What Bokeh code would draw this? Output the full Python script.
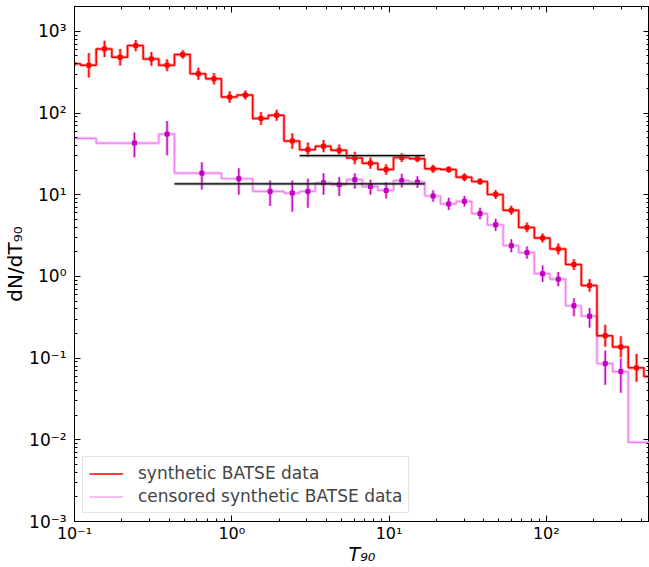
import numpy as np
from bokeh.plotting import figure
from bokeh.models import (FixedTicker, LogAxis, Range1d, Legend, LegendItem)
from bokeh.embed import file_html
from bokeh.resources import INLINE

# ---- bin geometry: log10 edges, equal-width bins (indices used below) ----
log_edge_start = -1.26
log_bin_width = 0.0995
n_edges = 41

# ---- synthetic BATSE data (red), bins from edge index 2 to 40 ----
red_first_edge = 2
red_values = [401, 385, 611, 483, 670, 461, 386, 521, 303, 263,
              157, 166, 86, 94, 45.5, 35.6, 39.3, 35, 28.2, 24.4,
              20.4, 28.5, 27.7, 20.8, 20.4, 16.4, 14.5, 10.1, 6.45, 3.98,
              2.95, 2.17, 1.40, 0.777, 0.188, 0.137, 0.076, 0.0596]
red_err_dex = [0.15, 0.15, 0.10, 0.10, 0.07, 0.085, 0.073, 0.053, 0.073, 0.07,
               0.07, 0.055, 0.08, 0.067, 0.095, 0.087, 0.075, 0.07, 0.077, 0.07,
               0.065, 0.055, 0.045, 0.05, 0.04, 0.05, 0.04, 0.055, 0.055, 0.06,
               0.055, 0.067, 0.067, 0.077, 0.135, 0.13, 0.17, 0.2]

# ---- censored synthetic BATSE data (violet) ----
violet_edge_idx = [0, 4, 8, 9, 12, 14] + list(range(16, 39)) + [40]
violet_values = [49.1, 43, 55.3, 18.4, 15.7, 11.0, 10.5, 11.0, 14.0, 13.3,
                 15.3, 12.6, 11.3, 14.9, 14.3, 9.66, 7.72, 8.32, 5.89, 4.29,
                 2.38, 1.96, 1.08, 0.927, 0.438, 0.326, 0.0857, 0.0685, 0.0093]
violet_err_up = [0.15, 0.13, 0.16, 0.134, 0.13, 0.134, 0.154, 0.154, 0.118, 0.093,
                 0.08, 0.085, 0.1, 0.085, 0.07, 0.07, 0.075, 0.065, 0.07, 0.073,
                 0.08, 0.075, 0.1, 0.087, 0.093, 0.10, 0.16, 0.16]
violet_err_down = [0.15, 0.175, 0.26, 0.2, 0.195, 0.18, 0.23, 0.2, 0.146, 0.14,
                   0.11, 0.1, 0.1, 0.085, 0.07, 0.07, 0.075, 0.065, 0.07, 0.073,
                   0.08, 0.075, 0.1, 0.087, 0.13, 0.14, 0.26, 0.26]

# ---- horizontal reference levels ----
hline_y = [30.1, 13.6]
hline_start_idx = [17, 9]
hline_end_idx = [25, 25]

# ---- ticks ----
x_major = [0.1, 1, 10, 100]
x_labels = {0.1: "10\u207b\u00b9", 1: "10\u2070", 10: "10\u00b9", 100: "10\u00b2"}
y_major = [1e-3, 1e-2, 1e-1, 1, 10, 100, 1000]
y_labels = {1e-3: "10\u207b\u00b3", 1e-2: "10\u207b\u00b2", 1e-1: "10\u207b\u00b9",
            1: "10\u2070", 10: "10\u00b9", 100: "10\u00b2", 1000: "10\u00b3"}

edges = 10 ** (log_edge_start + log_bin_width * np.arange(n_edges))

red_edges = edges[red_first_edge:red_first_edge + len(red_values) + 1]
red_lo, red_hi = red_edges[:-1], red_edges[1:]
red_mid = (red_lo + red_hi) / 2
rv = np.array(red_values)
re = np.array(red_err_dex)

v_edges = edges[violet_edge_idx]
vv = np.array(violet_values)
npts = len(violet_err_up)
v_mid = ((v_edges[:-1] + v_edges[1:]) / 2)[:npts]
vpt = vv[:npts]
vup = vpt * 10 ** np.array(violet_err_up)
vdn = vpt / 10 ** np.array(violet_err_down)

FONT = "DejaVu Sans"

p = figure(width=649, height=567, x_axis_type="log", y_axis_type="log",
           x_range=Range1d(0.1, 453), y_range=Range1d(1e-3, 2018),
           output_backend="svg", toolbar_location=None,
           min_border_left=74, min_border_right=0, min_border_top=6,
           min_border_bottom=44)
p.grid.visible = False
p.outline_line_color = "black"
p.background_fill_color = "white"

xt = FixedTicker(ticks=x_major,
                 minor_ticks=[m * d for d in [0.1, 1, 10, 100] for m in range(2, 10)])
yt = FixedTicker(ticks=y_major,
                 minor_ticks=[m * d for d in y_major for m in range(2, 10)])

for ax, tk, labs in [(p.xaxis[0], xt, x_labels), (p.yaxis[0], yt, y_labels)]:
    ax.ticker = tk
    ax.major_label_overrides = labs
    ax.major_tick_in = 6
    ax.major_tick_out = 0
    ax.minor_tick_in = 3
    ax.minor_tick_out = 0
    ax.major_label_text_font = FONT
    ax.major_label_text_font_size = "17px"
    ax.major_label_text_color = "black"
    ax.axis_line_color = "black"
    ax.major_tick_line_color = "black"
    ax.minor_tick_line_color = "black"
    ax.axis_label_text_font = FONT
    ax.axis_label_text_font_style = "normal"
    ax.axis_label_text_color = "black"
    ax.axis_label_text_font_size = "20px"

p.xaxis[0].axis_label = "T\u2089\u2080"
p.xaxis[0].axis_label_text_font_style = "italic"
p.xaxis[0].major_label_text_font_size = "16px"
p.xaxis[0].axis_label_text_font_size = "19px"
p.xaxis[0].major_label_standoff = 2
p.xaxis[0].axis_label_standoff = -3
p.yaxis[0].axis_label = "dN/dT\u2089\u2080"
p.yaxis[0].major_label_standoff = 8
p.yaxis[0].axis_label_standoff = -1

for loc, tk in [("above", xt), ("right", yt)]:
    ax = LogAxis(ticker=tk, major_tick_in=6, major_tick_out=0, minor_tick_in=3,
                 minor_tick_out=0, major_label_text_font_size="1px",
                 major_label_text_color=None, major_label_standoff=0,
                 axis_label_standoff=0,
                 axis_line_color="black",
                 major_tick_line_color="black", minor_tick_line_color="black")
    p.add_layout(ax, loc)

# violet histogram
vx = list(v_edges)
vy = list(vv) + [vv[-1]]
p.step(vx, vy, mode="after", line_color="violet", line_width=3.2, line_alpha=0.4)
v_step = p.step(vx, vy, mode="after", line_color="violet", line_width=1.2)

# red histogram
rx = list(red_edges)
ry = list(rv) + [rv[-1]]
p.step(rx, ry, mode="after", line_color="red", line_width=3.2, line_alpha=0.35)
r_step = p.step(rx, ry, mode="after", line_color="red", line_width=1.5)

# violet error bars and points
p.segment(v_mid, vdn, v_mid, vup, line_color="violet", line_width=3.2, line_alpha=0.6)
p.segment(v_mid, vdn, v_mid, vup, line_color="#bf00bf", line_width=1.3)
p.scatter(v_mid, vpt, marker="square", size=4, fill_color="#bf00bf",
          line_color="#bf00bf")

# red error bars and points
p.segment(red_mid, rv / 10 ** re, red_mid, rv * 10 ** re, line_color="red",
          line_width=3.2, line_alpha=0.4)
p.segment(red_mid, rv / 10 ** re, red_mid, rv * 10 ** re, line_color="red",
          line_width=1.3)
p.scatter(red_mid, rv, marker="square", size=4, fill_color="red", line_color="red")

# horizontal levels
hx0 = edges[hline_start_idx]
hx1 = edges[hline_end_idx]
p.segment(hx0, hline_y, hx1, hline_y, line_color="gray", line_width=3.5, line_alpha=0.45)
p.segment(hx0, hline_y, hx1, hline_y, line_color="black", line_width=1.3)

legend = Legend(items=[LegendItem(label="synthetic BATSE data", renderers=[r_step]),
                       LegendItem(label="censored synthetic BATSE data", renderers=[v_step])],
                location=(8, 8), label_text_font=FONT, label_text_font_size="17px",
                glyph_width=34, glyph_height=19, label_standoff=15, padding=6,
                spacing=3, margin=0, border_line_color="#cccccc",
                background_fill_alpha=0.85)
p.add_layout(legend)

open("out.html", "w").write(file_html(p, INLINE))
